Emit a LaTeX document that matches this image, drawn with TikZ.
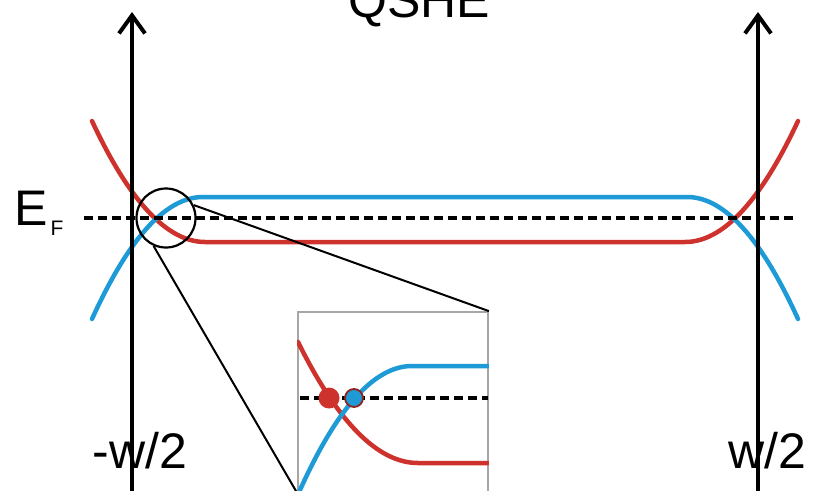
\documentclass[tikz,border=0pt]{standalone}
\usepackage{fontspec}
\setmainfont{Liberation Sans}
\usetikzlibrary{arrows.meta, positioning, calc}
\definecolor{bandred}{RGB}{205, 50, 45}
\definecolor{bandblue}{RGB}{30, 155, 215}

\begin{document}
\begin{tikzpicture}[x=1pt, y=-1pt,
  axis/.style={line width=4pt, -{Straight Barb[length=18pt, width=26pt, line width=4pt]}},
  fermi/.style={line width=4.5pt, dash pattern=on 9pt off 5pt},
  band/.style={line width=4.5pt, line cap=round},
  biglabel/.style={font=\fontsize{50}{50}\selectfont, inner sep=0pt},
  zoomline/.style={line width=2pt},
  dot/.style={circle, inner sep=0pt, minimum size=#1}
]
  \useasboundingbox (0,0) rectangle (813,490);
  \clip (0,0) rectangle (813,490);

  % edge bands
  \draw[band, bandred] (92,121) .. controls (129.7,201.7) and (167.3,242) .. (205,242)
    -- (685,242) .. controls (722.7,242) and (760.3,201.7) .. (798,121);
  \draw[band, bandblue] (92,319) .. controls (129,237.7) and (166,197) .. (203,197)
    -- (687,197) .. controls (724,197) and (761,237.7) .. (798,319);

  % Fermi level and axes
  \coordinate (efl) at (84,218);
  \coordinate (efr) at (793,218);
  \draw[fermi] (efl) -- (efr);
  \coordinate (lbot) at (132,495);
  \coordinate (ltop) at (132,12);
  \coordinate (rbot) at (758,495);
  \coordinate (rtop) at (758,12);
  \draw[axis] (lbot) -- (ltop);
  \draw[axis] (rbot) -- (rtop);

  \node[biglabel, anchor=base] (title) at (419,17) {QSHE};
  \node[biglabel, anchor=base west] (ef) at (14,225) {E\hspace{3pt}{\fontsize{21}{21}\selectfont\raisebox{-10pt}{F}}};
  \node[biglabel, anchor=base] (wl) at (140,468) {-w/2};
  \node[biglabel, anchor=base] (wr) at (767,468) {w/2};

  % zoom
  \node[draw, circle, line width=2.2pt, minimum size=59pt, inner sep=0pt] (zoomc) at (166,218) {};
  \node[draw=gray!70, fill=white, line width=1.8pt, minimum width=190pt, minimum height=180pt, inner sep=0pt] (inset) at (393,402) {};
  \draw[zoomline] (zoomc.25) -- (inset.north east);
  \draw[zoomline] (zoomc.-114) -- (inset.south west);

  \begin{scope}
    \clip (inset.south west) rectangle (inset.north east);
    \draw[band, bandred] (298,342) .. controls (338,422.7) and (378,463) .. (418,463) -- (490,463);
    \draw[band, bandblue] (300,490) .. controls (337.3,407.3) and (374.7,366) .. (412,366) -- (490,366);
    \coordinate (izl) at (300,398);
    \coordinate (izr) at (488,398);
    \draw[fermi] (izl) -- (izr);
  \end{scope}
  \node[dot=21pt, fill=bandred] (rdot) at (329,398) {};
  \node[dot=18pt, fill=bandblue, draw=bandred!70!black, line width=1.8pt] (bdot) at (354,398) {};
\end{tikzpicture}
\end{document}
